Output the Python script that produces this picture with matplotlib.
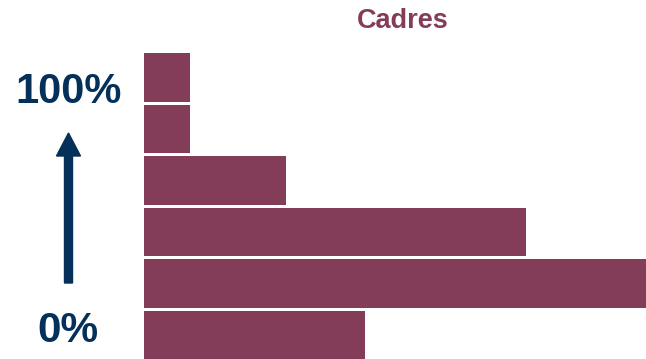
import matplotlib
matplotlib.use("Agg")
import matplotlib.pyplot as plt
from matplotlib.patches import FancyArrow

# share of population per bracket, bottom (0%) to top (100%)
brackets = ["b1", "b2", "b3", "b4", "b5", "b6"]
shares = [11.0, 27.0, 19.05, 7.07, 2.3, 2.3]
title = "Cadres"
top_label = "100%"
bottom_label = "0%"

MAROON = "#843D59"
NAVY = "#04305A"

plt.rcParams["font.family"] = ["Liberation Sans", "DejaVu Sans"]

fig = plt.figure(figsize=(6.46, 3.59), dpi=100)
W, H = 646, 359
ax = fig.add_axes([143.5 / W, -0.5 / H, (W - 143.5) / W, 306.5 / H])
ax.barh(range(len(brackets)), shares, height=0.94, color=MAROON, edgecolor="none")
ax.set_xlim(0, 25)
ax.set_ylim(-0.47, len(brackets) - 0.53)
ax.axis("off")

fig.text(403 / W, 1 - 28 / H, title, color=MAROON, fontsize=19.5, fontweight="bold",
         ha="center", va="baseline")
fig.text(69 / W, 1 - 103 / H, top_label, color=NAVY, fontsize=30, fontweight="bold",
         ha="center", va="baseline")
fig.text(68 / W, 1 - 342 / H, bottom_label, color=NAVY, fontsize=30.5, fontweight="bold",
         ha="center", va="baseline")

# upward arrow between the two labels (inches from bottom-left)
fig.patches.append(FancyArrow(0.685, (H - 283) / 100, 0, 1.50, width=0.08, head_width=0.24,
                              head_length=0.23, length_includes_head=True, color=NAVY,
                              transform=fig.dpi_scale_trans, figure=fig))

fig.savefig("out.png", dpi=100)
